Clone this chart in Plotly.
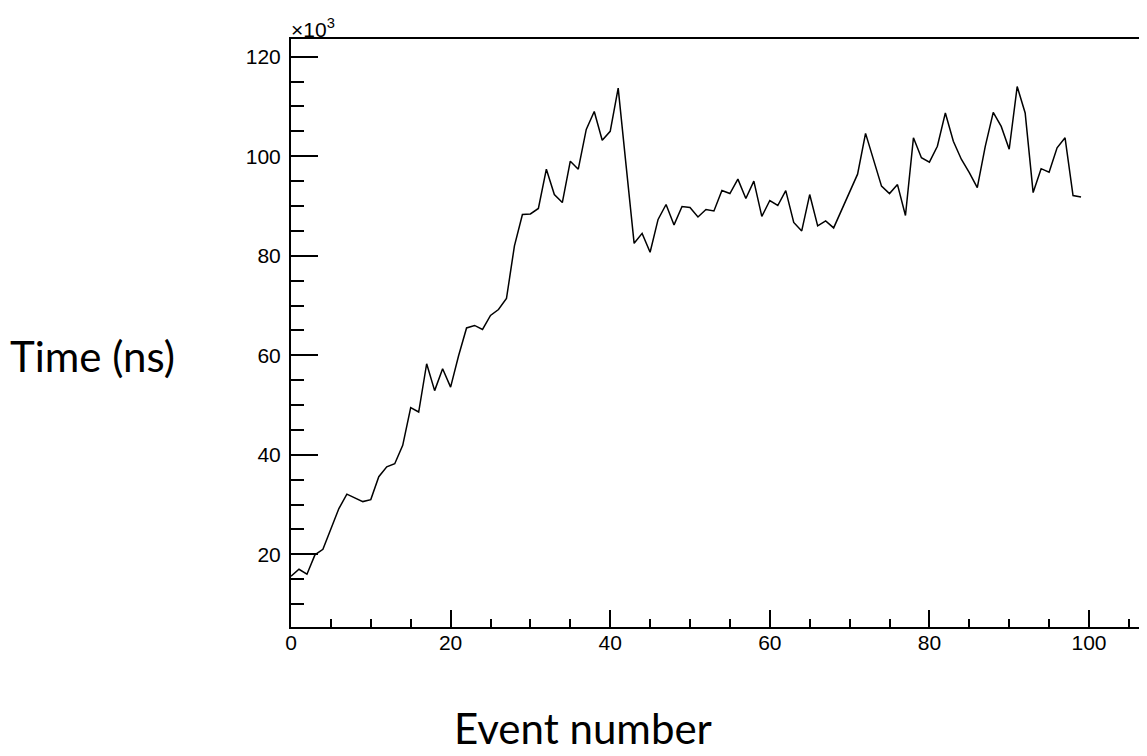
import plotly.graph_objects as go

# Event number
event_number = list(range(100))

# Time per event, in units of 10^3 ns
time_kns = [
    15.6, 17.0, 16.0, 19.9, 21.0, 25.2, 29.2, 32.1, 31.4, 30.6,
    31.0, 35.6, 37.6, 38.2, 41.9, 49.5, 48.6, 58.3, 52.9, 57.3,
    53.6, 59.9, 65.5, 66.0, 65.2, 68.0, 69.2, 71.4, 82.0, 88.3,
    88.4, 89.5, 97.4, 92.3, 90.7, 99.0, 97.4, 105.4, 109.0, 103.2,
    105.0, 113.7, 98.0, 82.5, 84.5, 80.7, 87.3, 90.3, 86.2, 89.9,
    89.7, 87.8, 89.3, 89.0, 93.1, 92.5, 95.4, 91.5, 95.0, 87.9,
    91.1, 90.1, 93.1, 86.7, 85.0, 92.3, 86.0, 87.0, 85.6, 89.2,
    92.7, 96.4, 104.6, 99.4, 94.0, 92.5, 94.3, 88.1, 103.7, 99.7,
    98.8, 102.0, 108.7, 103.0, 99.4, 96.7, 93.7, 102.0, 108.8, 106.0,
    101.4, 114.0, 108.7, 92.7, 97.5, 96.8, 101.7, 103.7, 92.1, 91.8,
]

x_title = "Event number"
y_title = "Time (ns)"
y_exponent = "×10<sup>3</sup>"

# page has an 8px body margin; figure coordinates = page coordinates - 8
OFF = 8
W, H = 1147 - 2 * OFF, 756 - 2 * OFF
L, R, T, B = 291 - OFF, 0, 39 - OFF, H - (627 - OFF)
pw, ph = W - L - R, H - T - B

def page_to_paper(px, py):
    return (px - OFF - L) / pw, (H - B - (py - OFF)) / ph

fig = go.Figure()
fig.add_trace(go.Scatter(
    x=event_number, y=time_kns, mode="lines",
    line=dict(color="black", width=1.5),
    showlegend=False, hoverinfo="skip",
))

tick_font = dict(family="Liberation Sans, Arial, sans-serif", size=21, color="black")
title_font = dict(family="Lato, sans-serif", size=42, color="black")

x_end = (1139 - 291) / 7.98

fig.update_xaxes(
    range=[0, x_end], dtick=20, tick0=0,
    showgrid=False, zeroline=False,
    showline=True, linecolor="black", linewidth=2, mirror=True,
    ticks="inside", ticklen=17, tickwidth=1.5, tickcolor="black",
    minor=dict(dtick=5, ticks="inside", ticklen=8, tickwidth=1.5, tickcolor="black"),
    tickfont=tick_font, ticklabelstandoff=-4,
)
fig.update_yaxes(
    range=[5.4, 123.56], dtick=20, tick0=0,
    showgrid=False, zeroline=False,
    showline=True, linecolor="black", linewidth=2, mirror=False,
    ticks="inside", ticklen=27, tickwidth=1.5, tickcolor="black",
    minor=dict(dtick=5, ticks="inside", ticklen=13, tickwidth=1.5, tickcolor="black"),
    tickfont=tick_font, ticklabelstandoff=4,
)

ax, ay = page_to_paper(583, 728)
bx, by = page_to_paper(92, 356)
cx, cy = page_to_paper(289, 28)
fig.add_annotation(text=x_title, xref="paper", yref="paper", x=ax, y=ay,
                   xanchor="center", yanchor="middle", showarrow=False, font=title_font)
fig.add_annotation(text=y_title, xref="paper", yref="paper", x=bx, y=by,
                   xanchor="center", yanchor="middle", showarrow=False, font=title_font)
fig.add_annotation(text=y_exponent, xref="paper", yref="paper", x=cx, y=cy,
                   xanchor="left", yanchor="middle", showarrow=False, font=tick_font)

fig.update_layout(
    width=W, height=H,
    margin=dict(l=L, r=R, t=T, b=B, pad=0),
    paper_bgcolor="white", plot_bgcolor="white",
)

fig.write_html("out.html")
